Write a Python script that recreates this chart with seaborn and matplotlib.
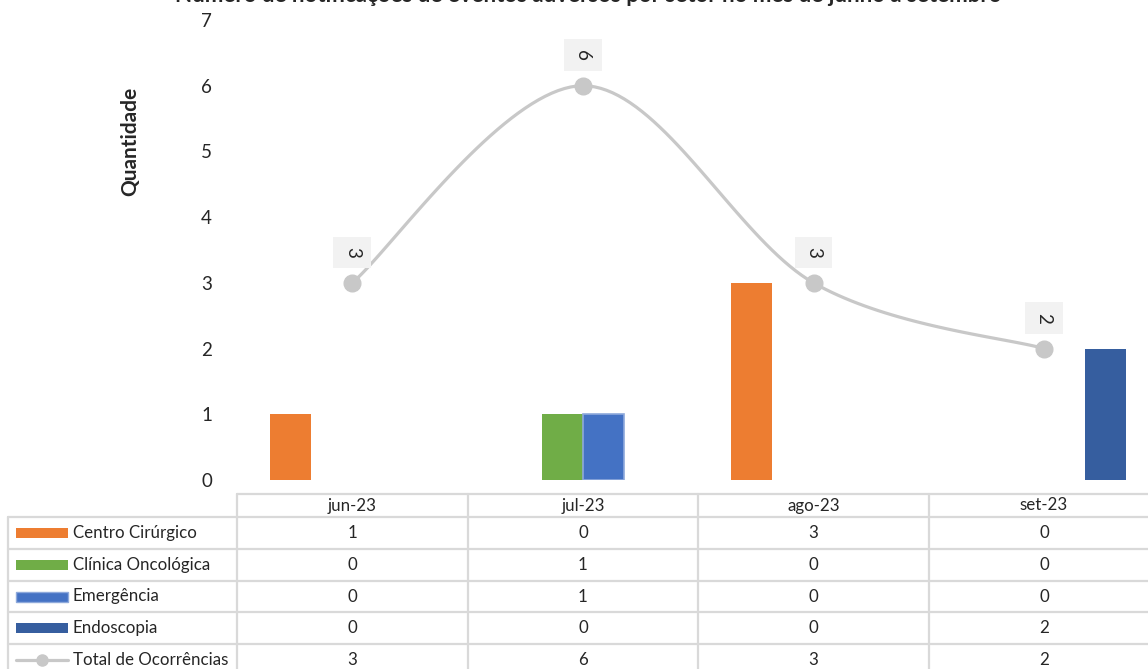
import numpy as np
import pandas as pd
import matplotlib
matplotlib.use("Agg")
import matplotlib.pyplot as plt
import seaborn as sns
from matplotlib.patches import Rectangle
from matplotlib.lines import Line2D

# dados
meses = ["jun-23", "jul-23", "ago-23", "set-23"]
setores = ["Centro Cirúrgico", "Clínica Oncológica", "Emergência", "Endoscopia"]
centro_cirurgico = [1, 0, 3, 0]
clinica_oncologica = [0, 1, 0, 0]
emergencia = [0, 1, 0, 0]
endoscopia = [0, 0, 0, 2]
total = [3, 6, 3, 2]
nome_total = "Total de Ocorrências"
titulo = "Número de notificações de eventos adversos por setor no mês de junho a setembro"

cores = ["#ED7D31", "#70AD47", "#4472C4", "#365E9F"]
cor_total = "#C8C8C8"
cor_grade = "#D9D9D9"

sns.set_style("white")
plt.rcParams['font.family'] = ['Lato', 'DejaVu Sans']

df = pd.DataFrame({
    "mes": meses * 4,
    "setor": np.repeat(setores, 4),
    "valor": centro_cirurgico + clinica_oncologica + emergencia + endoscopia,
})

W, H = 1148, 669
fig = plt.figure(figsize=(W / 100, H / 100), dpi=100)
col_w = 230.6
ax_left, ax_right = 237, 237 + 4 * col_w
ax = fig.add_axes([ax_left / W, (H - 480) / H, (ax_right - ax_left) / W, 460 / H])

sns.barplot(data=df, x="mes", y="valor", hue="setor", hue_order=setores,
            palette=cores, width=0.712, saturation=1, linewidth=0,
            legend=False, ax=ax)
for bar in ax.containers[2]:
    if bar.get_height() > 0:
        bar.set_edgecolor("#8EA9DB")
        bar.set_linewidth(1.2)


# linha suavizada (estilo Excel) passando pelos pontos do total
def curva_suave(ys, n=40):
    xs = np.arange(len(ys), dtype=float)
    ys = np.asarray(ys, dtype=float)
    px = np.concatenate([[xs[0]], xs, [xs[-1]]])
    py = np.concatenate([[ys[0]], ys, [ys[-1]]])
    out_x, out_y = [], []
    t = np.linspace(0, 1, n)
    for i in range(len(xs) - 1):
        p0 = np.array([px[i + 1], py[i + 1]])
        p3 = np.array([px[i + 2], py[i + 2]])
        p1 = p0 + (np.array([px[i + 2], py[i + 2]]) - np.array([px[i], py[i]])) / 6
        p2 = p3 - (np.array([px[i + 3], py[i + 3]]) - np.array([px[i + 1], py[i + 1]])) / 6
        b = ((1 - t) ** 3)[:, None] * p0 + (3 * (1 - t) ** 2 * t)[:, None] * p1 \
            + (3 * (1 - t) * t ** 2)[:, None] * p2 + (t ** 3)[:, None] * p3
        out_x.extend(b[:, 0])
        out_y.extend(b[:, 1])
    return out_x, out_y


sx, sy = curva_suave(total)
ax.plot(sx, sy, color=cor_total, lw=2.3, zorder=3, solid_capstyle="round")
ax.plot(range(len(total)), total, "o", ms=12, color=cor_total, zorder=4)
for i, v in enumerate(total):
    ax.annotate(str(v), (i, v), xytext=(0, 22), textcoords="offset points",
                rotation=270, ha="center", va="center", fontsize=13.5,
                bbox=dict(boxstyle="square,pad=0.55", fc="#F2F2F2", ec="none"))

ax.set_ylim(0, 7)
ax.set_xlim(-0.5, 3.5)
ax.set_yticks(range(0, 8))
ax.tick_params(axis="y", length=0, labelsize=13.5, pad=18)
ax.tick_params(axis="x", length=0, labelbottom=False)
ax.set_xlabel("")
ax.set_ylabel("")
sns.despine(ax=ax, left=True, bottom=True, top=True, right=True)

fig.text(130 / W, 1 - 141 / H, "Quantidade", rotation=90, fontweight="bold",
         fontsize=15, ha="center", va="center")
fig.text(588 / W, 1 - 2 / H, titulo, ha="center", va="baseline",
         fontweight="bold", fontsize=16)

# tabela de dados
tab = fig.add_axes([ax_left / W, (H - 676) / H, (ax_right - ax_left) / W, (676 - 494) / H])
tab.set_xlim(-0.5, 3.5)
tab.set_ylim(676, 494)
tab.axis("off")


def px(xpix):
    return -0.5 + (xpix - ax_left) / col_w


linhas = [494, 517, 549, 581, 612, 644, 676]
x_lab = px(8)
kw = dict(color=cor_grade, lw=1.6, clip_on=False)
tab.plot([-0.5, 3.5], [linhas[0], linhas[0]], **kw)
for y in linhas[1:]:
    tab.plot([x_lab, 3.5], [y, y], **kw)
for j in range(len(meses) + 1):
    tab.plot([j - 0.5, j - 0.5], [linhas[0], linhas[-1]], **kw)
tab.plot([x_lab, x_lab], [linhas[1], linhas[-1]], **kw)

fs = 12.2
for j, m in enumerate(meses):
    tab.text(j, (linhas[0] + linhas[1]) / 2, m, ha="center", va="center", fontsize=fs)

series = [centro_cirurgico, clinica_oncologica, emergencia, endoscopia, total]
nomes = setores + [nome_total]
for r, (nome, vals) in enumerate(zip(nomes, series)):
    yc = (linhas[r + 1] + linhas[r + 2]) / 2
    for j, v in enumerate(vals):
        tab.text(j, yc, str(v), ha="center", va="center", fontsize=fs)
    tab.text(px(73), yc, nome, ha="left", va="center", fontsize=fs, clip_on=False)
    if r < len(setores):
        ec = "#8EA9DB" if r == 2 else "none"
        tab.add_patch(Rectangle((px(16), yc + 5), px(68) - px(16), -10,
                                fc=cores[r], ec=ec, lw=1, clip_on=False))
    else:
        tab.add_line(Line2D([px(16), px(42), px(68)], [yc, yc, yc], color=cor_total,
                            lw=2.3, marker="o", markevery=[1], ms=8, clip_on=False))

fig.savefig("out.png", dpi=100)
